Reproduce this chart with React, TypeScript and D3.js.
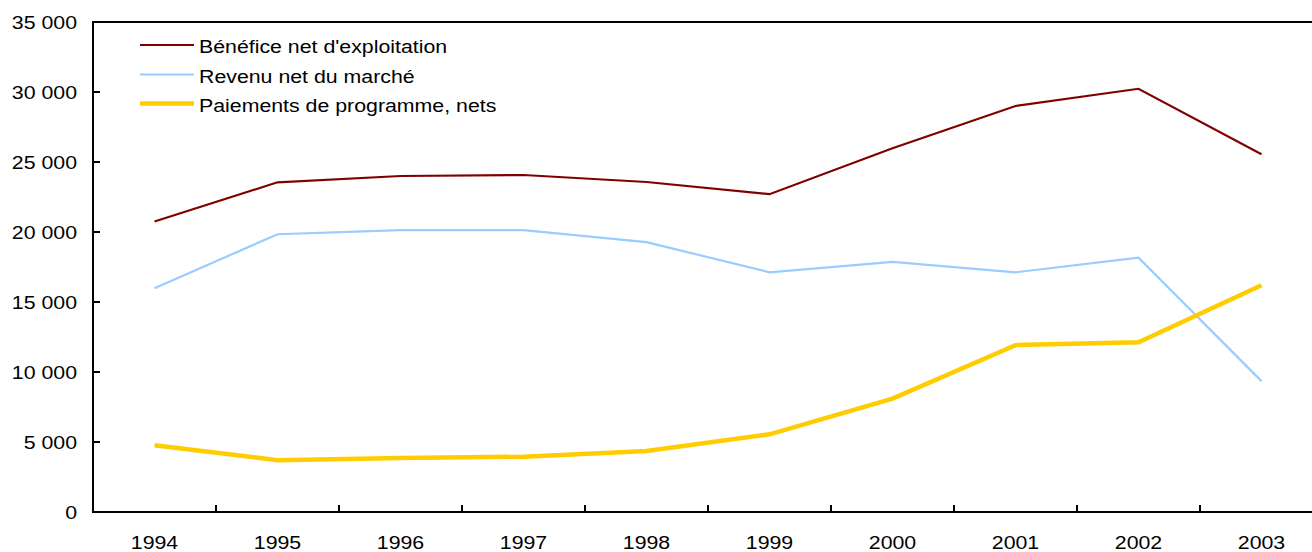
import React, { useEffect, useRef } from "react";
import * as d3 from "d3";

const years = ["1994","1995","1996","1997","1998","1999","2000","2001","2002","2003"];
const benefice = [20750, 23550, 24000, 24070, 23570, 22700, 25980, 29000, 30230, 25560];
const revenu = [15980, 19840, 20140, 20140, 19280, 17120, 17870, 17120, 18160, 9350];
const paiements = [4770, 3700, 3850, 3950, 4350, 5550, 8100, 11920, 12120, 16200];
const yTicks = [0, 5000, 10000, 15000, 20000, 25000, 30000, 35000];
const seriesNames = ["Bénéfice net d'exploitation", "Revenu net du marché", "Paiements de programme, nets"];

const W = 1312, H = 552;
const FONT = "'Liberation Sans', Arial, sans-serif";

export default function App() {
  const ref = useRef<SVGSVGElement>(null);
  useEffect(() => {
    const svg = d3.select(ref.current);
    svg.selectAll("*").remove();
    const left = 93, top = 22, bottom = 512, right = 1323;
    const x = d3.scaleBand().domain(years).range([left, right]).paddingInner(0).paddingOuter(0);
    const y = d3.scaleLinear().domain([0, 35000]).range([bottom, top]);
    const sx = 1.14;
    const fs = 18.7;

    const series = [
      { name: seriesNames[0], values: benefice, color: "#800000", width: 2.2 },
      { name: seriesNames[1], values: revenu, color: "#99CCFF", width: 2.2 },
      { name: seriesNames[2], values: paiements, color: "#FFCC00", width: 4.5 },
    ];

    const line = d3.line<number>()
      .x((_, i) => (x(years[i]) as number) + x.bandwidth() / 2)
      .y(d => y(d));

    const order = [1, 0, 2];
    order.forEach(k => {
      const s = series[k];
      svg.append("path")
        .attr("d", line(s.values) as string)
        .attr("fill", "none")
        .attr("stroke", s.color)
        .attr("stroke-width", s.width)
        .attr("stroke-linejoin", "miter");
    });

    svg.append("line").attr("x1", left).attr("x2", right).attr("y1", top).attr("y2", top)
      .attr("stroke", "#000").attr("stroke-width", 2);

    svg.append("line").attr("x1", left).attr("x2", left).attr("y1", top - 1).attr("y2", bottom + 1)
      .attr("stroke", "#000").attr("stroke-width", 2);
    yTicks.forEach(t => {
      svg.append("line").attr("x1", left).attr("x2", left + 7).attr("y1", y(t)).attr("y2", y(t))
        .attr("stroke", "#000").attr("stroke-width", 2);
      svg.append("text")
        .attr("transform", `translate(77,${y(t) + 7}) scale(${sx},1)`)
        .attr("text-anchor", "end")
        .attr("font-family", FONT).attr("font-size", fs).attr("fill", "#000")
        .text(d3.format(",")(t).replace(/,/g, " "));
    });

    svg.append("line").attr("x1", left - 1).attr("x2", right).attr("y1", bottom).attr("y2", bottom)
      .attr("stroke", "#000").attr("stroke-width", 2);
    years.forEach((yr, i) => {
      const bx = x(yr) as number;
      if (i > 0) {
        svg.append("line").attr("x1", bx).attr("x2", bx).attr("y1", bottom).attr("y2", bottom - 7)
          .attr("stroke", "#000").attr("stroke-width", 2);
      }
      svg.append("text")
        .attr("transform", `translate(${bx + x.bandwidth() / 2},${549}) scale(${sx},1)`)
        .attr("text-anchor", "middle")
        .attr("font-family", FONT).attr("font-size", fs).attr("fill", "#000")
        .text(yr);
    });
    svg.append("line").attr("x1", right).attr("x2", right).attr("y1", bottom).attr("y2", bottom - 7)
      .attr("stroke", "#000").attr("stroke-width", 2);

    const legY = [45, 74.5, 103.5];
    series.forEach((s, i) => {
      svg.append("line").attr("x1", 140).attr("x2", 194).attr("y1", legY[i]).attr("y2", legY[i])
        .attr("stroke", s.color).attr("stroke-width", s.width);
      svg.append("text")
        .attr("transform", `translate(199,${legY[i] + 8}) scale(${sx},1)`)
        .attr("font-family", FONT).attr("font-size", fs).attr("fill", "#000")
        .text(s.name);
    });
  }, []);

  return (
    <svg ref={ref} width={W} height={H}
      style={{ position: "absolute", left: 0, top: 0, background: "#fff" }} />
  );
}
